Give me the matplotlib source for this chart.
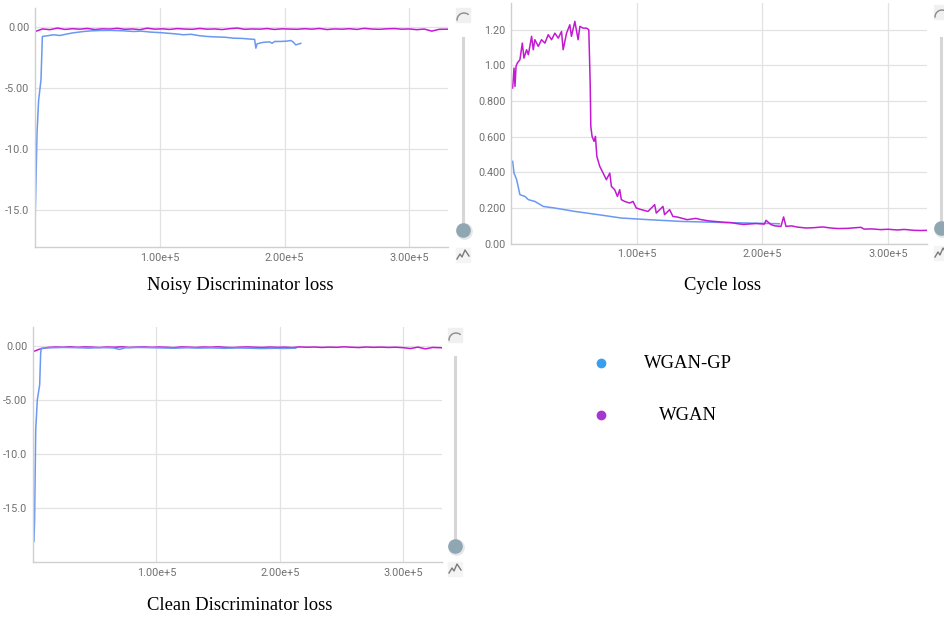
"""
TensorBoard-style loss curves: WGAN-GP vs WGAN.
"""

import numpy as np
import matplotlib
matplotlib.use("Agg")
import matplotlib.pyplot as plt
from matplotlib.lines import Line2D
from matplotlib.patches import Rectangle
from matplotlib.transforms import Affine2D

# ---- data (steps in thousands) ----
disc_wgan_k = [0, 6, 12, 18, 24, 30, 36, 42, 48, 54,
               60, 66, 72, 78, 84, 90, 96, 102, 108, 114,
               120, 126, 132, 138, 144, 150, 156, 162, 168, 174,
               180, 186, 192, 198, 204, 210, 216, 222, 228, 234,
               240, 246, 252, 258, 264, 270, 276, 282, 288, 294,
               300, 306, 312, 318, 324, 331]

noisy_wgan = [-0.34, -0.12, -0.18, -0.05, -0.16, -0.10, -0.14, -0.08, -0.17, -0.11,
              -0.13, -0.07, -0.15, -0.12, -0.18, -0.06, -0.14, -0.11, -0.16, -0.09,
              -0.13, -0.15, -0.08, -0.14, -0.12, -0.17, -0.10, -0.05, -0.15, -0.12,
              -0.14, -0.09, -0.16, -0.11, -0.13, -0.15, -0.10, -0.14, -0.08, -0.17,
              -0.12, -0.14, -0.10, -0.16, -0.07, -0.13, -0.15, -0.11, -0.09, -0.14,
              -0.12, -0.18, -0.13, -0.30, -0.15, -0.14]

noisy_gp_k = [0, 1.6, 2.9, 4.8, 5.9, 10, 15, 20, 25, 30,
              39, 45, 52, 60, 70, 79, 85, 92.5, 100, 106,
              112, 119, 125, 132, 138, 145, 152, 159, 166, 173,
              176, 177, 178, 183, 188, 190, 192, 197, 202, 205,
              207, 209, 213]
noisy_gp = [-16.4, -8.7, -6.0, -4.3, -0.74, -0.68, -0.60, -0.66, -0.55, -0.45,
            -0.33, -0.28, -0.25, -0.24, -0.27, -0.33, -0.30, -0.38, -0.42, -0.47,
            -0.52, -0.60, -0.56, -0.68, -0.74, -0.78, -0.80, -0.88, -0.90, -0.96,
            -0.98, -1.70, -1.34, -1.22, -1.18, -1.30, -1.15, -1.15, -1.12, -1.07,
            -1.20, -1.43, -1.30]

clean_wgan = [-0.51, -0.25, -0.12, -0.08, -0.10, -0.06, -0.11, -0.07, -0.09, -0.13,
              -0.08, -0.10, -0.06, -0.12, -0.09, -0.07, -0.11, -0.08, -0.10, -0.14,
              -0.07, -0.09, -0.12, -0.08, -0.10, -0.06, -0.11, -0.13, -0.09, -0.07,
              -0.10, -0.12, -0.08, -0.11, -0.09, -0.13, -0.07, -0.10, -0.08, -0.12,
              -0.09, -0.11, -0.06, -0.10, -0.13, -0.08, -0.11, -0.09, -0.12, -0.10,
              -0.14, -0.22, -0.09, -0.25, -0.12, -0.15]

clean_gp_k = [0.8, 1.3, 2.2, 3.5, 5.4, 6.2, 6.7, 9.4, 15, 25,
              35, 45, 55, 65, 70, 75, 85, 95, 105, 115,
              125, 135, 145, 155, 165, 175, 185, 195, 205, 213]
clean_gp = [-18.05, -16.0, -7.74, -4.97, -3.58, -0.66, -0.20, -0.17, -0.15, -0.12,
            -0.14, -0.18, -0.13, -0.16, -0.30, -0.15, -0.12, -0.14, -0.17, -0.19,
            -0.15, -0.18, -0.16, -0.20, -0.17, -0.19, -0.22, -0.20, -0.21, -0.19]

cycle_gp_k = [1.3, 2.4, 4.5, 7.1, 11.1, 13.8, 19.0, 25.7, 34.9, 50.8,
              69.3, 87.8, 109.0, 135.4, 161.9, 188.4, 213.5]
cycle_gp = [0.462, 0.396, 0.359, 0.275, 0.265, 0.247, 0.237, 0.209, 0.200, 0.181,
            0.163, 0.144, 0.135, 0.125, 0.120, 0.116, 0.112]

cycle_wgan_k = [1.3, 2.4, 3.2, 4.0, 5.0, 7.1, 9.0, 10.3, 12.4, 13.8,
                16.4, 17.7, 19.0, 21.7, 24.3, 27.0, 29.6, 32.3, 34.9, 37.6,
                40.2, 41.5, 44.2, 46.8, 48.1, 50.8, 53.4, 54.8, 57.4, 60.1,
                61.9, 63.0, 63.5, 64.5, 66.1, 67.2, 68.3, 70.6, 73.3, 75.9,
                78.6, 79.9, 82.5, 84.7, 86.5, 87.8, 90.5, 94.4, 97.1, 99.7,
                103.7, 109.0, 114.3, 115.6, 120.9, 122.2, 126.2, 128.8, 132, 135.4,
                140, 143.4, 147, 151.3, 157, 161.9, 169.8, 175, 180.4, 185,
                188.4, 195, 201.6, 202.9, 206.9, 210, 214.8, 216.9, 218.8, 223,
                228.0, 235, 241.3, 248, 254.5, 260, 267.7, 273, 278.3, 281.0,
                287, 294.2, 300, 307.4, 313, 320.6, 326, 331.2]
cycle_wgan = [0.873, 0.985, 0.882, 0.994, 1.013, 1.032, 1.125, 1.041, 1.088, 1.060,
              1.163, 1.088, 1.144, 1.107, 1.144, 1.125, 1.172, 1.144, 1.181, 1.153,
              1.190, 1.088, 1.181, 1.228, 1.163, 1.247, 1.144, 1.219, 1.209, 1.209,
              1.200, 0.901, 0.658, 0.602, 0.574, 0.602, 0.490, 0.434, 0.396, 0.359,
              0.396, 0.321, 0.303, 0.265, 0.303, 0.247, 0.237, 0.228, 0.237, 0.200,
              0.191, 0.181, 0.219, 0.172, 0.209, 0.163, 0.191, 0.153, 0.150, 0.144,
              0.135, 0.138, 0.142, 0.135, 0.128, 0.125, 0.120, 0.118, 0.112, 0.108,
              0.110, 0.113, 0.110, 0.131, 0.107, 0.100, 0.097, 0.150, 0.097, 0.100,
              0.093, 0.088, 0.090, 0.094, 0.088, 0.085, 0.086, 0.089, 0.092, 0.082,
              0.083, 0.079, 0.081, 0.077, 0.080, 0.075, 0.074, 0.075]

x_ticks = [1e5, 2e5, 3e5]
x_labels = ["1.00e+5", "2.00e+5", "3.00e+5"]
disc_yticks = [0, -5, -10, -15]
disc_ylabels = ["0.00", "-5.00", "-10.0", "-15.0"]
cycle_yticks = [0, 0.2, 0.4, 0.6, 0.8, 1.0, 1.2]
cycle_ylabels = ["0.00", "0.200", "0.400", "0.600", "0.800", "1.00", "1.20"]

series_names = ["WGAN-GP", "WGAN"]
GP_COLOR = "#6a98f3"
WGAN_COLOR = "#c21ad2"
DOT_COLORS = ["#3a9eec", "#a536cf"]

W, H = 944, 619
SERIF = "Liberation Serif"


def k(steps):
    return np.asarray(steps) * 1e3


def px_box(left, top, right, bottom):
    return [left / W, 1 - bottom / H, (right - left) / W, (bottom - top) / H]


def style_axes(ax, xlim, ylim, yticks, ylabels):
    ax.set_xlim(*xlim)
    ax.set_ylim(*ylim)
    ax.set_xticks(x_ticks, x_labels)
    ax.set_yticks(yticks, ylabels)
    ax.tick_params(length=0, labelsize=7.8, labelcolor="#707070", pad=4)
    for lab in ax.get_xticklabels() + ax.get_yticklabels():
        lab.set_fontfamily("Roboto")
    ax.grid(True, color="#e2e2e2", lw=0.9)
    ax.set_axisbelow(True)
    for side in ("top", "right"):
        ax.spines[side].set_visible(False)
    for side in ("left", "bottom"):
        ax.spines[side].set_color("#cfcfcf")
        ax.spines[side].set_linewidth(1.0)


fig = plt.figure(figsize=(9.44, 6.19), dpi=100)
pix = Affine2D().scale(1 / W, -1 / H).translate(0, 1) + fig.transFigure


def draw_slider(x, top, bottom, knob_y, icon_top, icon_bottom):
    # the smoothing slider on the right of each TensorBoard card
    fig.add_artist(Line2D([x, x], [top, bottom], color="#d6d6d6", lw=2.2, transform=pix))
    fig.add_artist(Line2D([x + 1], [knob_y + 1], marker="o", markersize=11,
                          color="#e6e6e6", transform=pix))
    fig.add_artist(Line2D([x], [knob_y], marker="o", markersize=9.5,
                          color="#8fa7b3", transform=pix))
    fig.add_artist(Rectangle((x - 7, icon_top - 7), 14, 14, color="#f0f0f0", transform=pix))
    t = np.linspace(np.pi, np.pi * 0.3, 12)
    fig.add_artist(Line2D(x + 1 + 7 * np.cos(t), icon_top + 5 - 7 * np.sin(t),
                          color="#8a8a8a", lw=1.0, transform=pix))
    fig.add_artist(Rectangle((x - 7, icon_bottom - 7), 14, 14, color="#f4f4f4", transform=pix))
    fig.add_artist(Line2D([x - 6, x - 3, x - 1, x + 2, x + 6],
                          [icon_bottom + 4, icon_bottom - 1, icon_bottom + 2,
                           icon_bottom - 5, icon_bottom + 1],
                          color="#7a7a7a", lw=1.0, transform=pix))


# Noisy discriminator loss
ax1 = fig.add_axes(px_box(35, 8, 448, 247))
ax1.plot(k(disc_wgan_k), noisy_wgan, color=WGAN_COLOR, lw=1.1)
ax1.plot(k(noisy_gp_k), noisy_gp, color=GP_COLOR, lw=1.1)
style_axes(ax1, (0, 3.31e5), (-18.04, 1.6), disc_yticks, disc_ylabels)

# Cycle loss
ax2 = fig.add_axes(px_box(511, 3, 927, 243.7))
ax2.plot(k(cycle_gp_k), cycle_gp, color=GP_COLOR, lw=1.1)
ax2.plot(k(cycle_wgan_k), cycle_wgan, color=WGAN_COLOR, lw=1.1)
style_axes(ax2, (0, 3.31e5), (0, 1.35), cycle_yticks, cycle_ylabels)

# Clean discriminator loss
ax3 = fig.add_axes(px_box(33, 327, 442, 562))
ax3.plot(k(disc_wgan_k), clean_wgan, color=WGAN_COLOR, lw=1.1)
ax3.plot(k(clean_gp_k), clean_gp, color=GP_COLOR, lw=1.1)
style_axes(ax3, (0, 3.315e5), (-19.95, 1.77), disc_yticks, disc_ylabels)

draw_slider(463, 38, 227, 230, 15, 255)
draw_slider(941, 38, 225, 228, 12, 253)
draw_slider(455, 357, 542, 546, 335, 569)

fig.text(240 / W, 1 - 285 / H, "Noisy Discriminator loss", family=SERIF,
         fontsize=13.4, ha="center", va="center")
fig.text(722 / W, 1 - 285 / H, "Cycle loss", family=SERIF,
         fontsize=13.4, ha="center", va="center")
fig.text(240 / W, 1 - 605 / H, "Clean Discriminator loss", family=SERIF,
         fontsize=13.4, ha="center", va="center")

# legend
for name, color, y in zip(series_names, DOT_COLORS, [363, 415]):
    fig.add_artist(Line2D([601], [y], marker="o", markersize=6, color=color,
                          transform=pix))
    fig.text(688 / W, 1 - y / H, name, family=SERIF, fontsize=13.4,
             ha="center", va="center")

fig.savefig("out.png", dpi=100)
